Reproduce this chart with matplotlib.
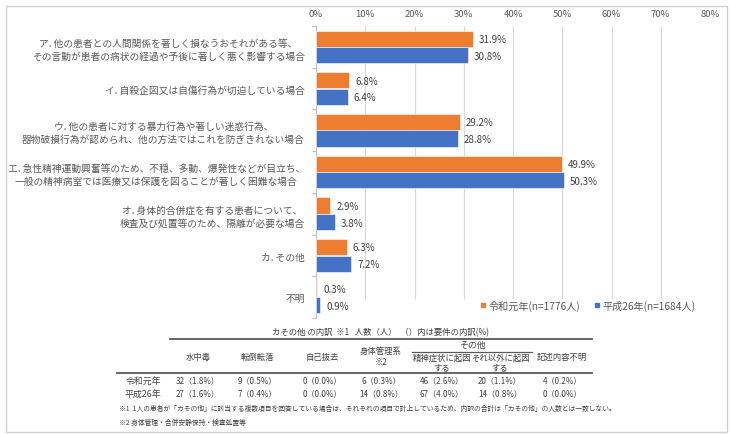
import matplotlib
matplotlib.use("Agg")
import matplotlib.pyplot as plt
from matplotlib.lines import Line2D
from matplotlib.patches import Rectangle

plt.rcParams['font.family'] = ['Noto Sans CJK JP', 'DejaVu Sans']

categories = [
    "ア. 他の患者との人間関係を著しく損なうおそれがある等、\nその言動が患者の病状の経過や予後に著しく悪く影響する場合",
    "イ. 自殺企図又は自傷行為が切迫している場合",
    "ウ. 他の患者に対する暴力行為や著しい迷惑行為、\n器物破損行為が認められ、他の方法ではこれを防ぎきれない場合",
    "エ. 急性精神運動興奮等のため、不穏、多動、爆発性などが目立ち、\n一般の精神病室では医療又は保護を図ることが著しく困難な場合",
    "オ. 身体的合併症を有する患者について、\n検査及び処置等のため、隔離が必要な場合",
    "カ. その他",
    "不明",
]
reiwa = [31.9, 6.8, 29.2, 49.9, 2.9, 6.3, 0.3]
heisei = [30.8, 6.4, 28.8, 50.3, 3.8, 7.2, 0.9]
series_names = ["令和元年(n=1776人)", "平成26年(n=1684人)"]
x_ticks = [0, 10, 20, 30, 40, 50, 60, 70, 80]

table_title = "カその他 の内訳  ※1   人数（人）  （）内は要件の内訳(%)"
table_cols = ["水中毒", "転倒転落", "自己抜去", "身体管理系\n※2", "精神症状に起因\nする", "それ以外に起因\nする", "記述内容不明"]
table_group = "その他"
table_rows = ["令和元年", "平成26年"]
table_vals = [
    ["32（1.8%）", "9（0.5%）", "0（0.0%）", "6（0.3%）", "46（2.6%）", "20（1.1%）", "4（0.2%）"],
    ["27（1.6%）", "7（0.4%）", "0（0.0%）", "14（0.8%）", "67（4.0%）", "14（0.8%）", "0（0.0%）"],
]
footnotes = [
    "※1  1人の患者が「カその他」に該当する複数項目を回答している場合は、それぞれの項目で計上しているため、内訳の合計は「カその他」の人数とは一致しない。",
    "※2 身体管理・合併安静保持・検査処置等",
]

W, H = 730, 435
fig = plt.figure(figsize=(W / 100, H / 100), dpi=100)
fig.patch.set_facecolor("white")

def fx(x):
    return x / W

def fy(y):
    return 1 - y / H

ax_left, ax_right, ax_top, ax_bot = 316, 710, 27, 319
ax = fig.add_axes([fx(ax_left), fy(ax_bot), fx(ax_right) - fx(ax_left), fy(ax_top) - fy(ax_bot)])

ORANGE = "#ED7D31"
BLUE = "#4472C4"
TXT = "#404040"
GRAY = "#595959"

n = len(categories)
ys = list(range(n))
bh = 0.385
ax.barh([y - bh / 2 - 0.005 for y in ys], reiwa, height=bh, color=ORANGE, edgecolor="white", linewidth=0.4, zorder=3)
ax.barh([y + bh / 2 + 0.005 for y in ys], heisei, height=bh, color=BLUE, edgecolor="white", linewidth=0.4, zorder=3)

for y, v in zip(ys, reiwa):
    ax.text(v + 1.2, y - bh / 2, f"{v}%", va="center", ha="left", fontsize=7, color=TXT, zorder=4)
for y, v in zip(ys, heisei):
    ax.text(v + 1.2, y + bh / 2 + 0.02, f"{v}%", va="center", ha="left", fontsize=7, color=TXT, zorder=4)

ax.set_xlim(0, 80)
ax.set_ylim(n - 0.5, -0.5)
ax.xaxis.tick_top()
ax.set_xticks(x_ticks)
ax.set_xticklabels([f"{t}%" for t in x_ticks], fontsize=6.8, color=GRAY)
ax.tick_params(axis="x", length=0, pad=6)

# gridlines ending above the legend
grid_bottom = (ax_bot - 300) / (ax_bot - ax_top)
for t in x_ticks[1:]:
    ax.vlines(t, grid_bottom, 1, transform=ax.get_xaxis_transform(), color="#d9d9d9", linewidth=0.8, zorder=1)

ax.set_yticks(ys)
ax.set_yticklabels(categories, fontsize=7.0, color=GRAY, linespacing=1.35)
for lab in ax.get_yticklabels():
    lab.set_multialignment("center")
ax.tick_params(axis="y", length=0, pad=8)
ax.set_yticks([y + 0.5 for y in range(-1, n)], minor=True)
ax.tick_params(axis="y", which="minor", length=3, color="#bfbfbf", width=0.8)

for s in ["top", "right", "bottom"]:
    ax.spines[s].set_visible(False)
ax.spines["left"].set_color("#bfbfbf")
ax.spines["left"].set_linewidth(0.8)
ax.set_facecolor("none")

handles = [
    Line2D([], [], marker="s", linestyle="none", markersize=3.5, color=ORANGE),
    Line2D([], [], marker="s", linestyle="none", markersize=3.5, color=BLUE),
]
fig.legend(handles, series_names, loc="center", bbox_to_anchor=(fx(588), fy(306)), ncol=2,
           frameon=False, handlelength=0.5, handletextpad=0.3, columnspacing=1.4,
           prop={"size": 7.3}, labelcolor=GRAY)

# ---- table ----
def line(x1, x2, y, lw=1.0, color=GRAY):
    fig.add_artist(Line2D([fx(x1), fx(x2)], [fy(y), fy(y)], transform=fig.transFigure, color=color, linewidth=lw))

TS = 6.0
fig.text(fx(381), fy(333), table_title, ha="center", va="center", fontsize=TS, color=TXT)
line(170, 592, 340, lw=1.3)
col_x = [198, 257, 322, 381, 442, 500, 562]
col_y = [357, 357, 357, 357, 363, 363, 357]
for cx, cy, c in zip(col_x, col_y, table_cols):
    fig.text(fx(cx), fy(cy), c, ha="center", va="center", fontsize=TS, color=TXT, linespacing=1.15, multialignment="center")
fig.text(fx(472), fy(345), table_group, ha="center", va="center", fontsize=TS + 0.4, color=TXT)
line(412, 532, 352.5, lw=0.9)
line(117, 592, 374, lw=1.3)
row_y = [381, 394]
for ry, rn, vals in zip(row_y, table_rows, table_vals):
    fig.text(fx(143), fy(ry), rn, ha="center", va="center", fontsize=TS + 0.4, color=TXT)
    for cx, v in zip(col_x, vals):
        fig.text(fx(cx), fy(ry), v, ha="center", va="center", fontsize=TS - 0.2, color=TXT)
fig.text(fx(119), fy(409), footnotes[0], ha="left", va="center", fontsize=4.9, color=TXT)
fig.text(fx(119), fy(423), footnotes[1], ha="left", va="center", fontsize=4.9, color=TXT)

# outer border
fig.add_artist(Rectangle((fx(6), fy(433)), fx(727) - fx(6), fy(7) - fy(433), transform=fig.transFigure,
                         fill=False, edgecolor="#d0d0d0", linewidth=1.0))

fig.savefig("out.png", dpi=100, facecolor="white")
